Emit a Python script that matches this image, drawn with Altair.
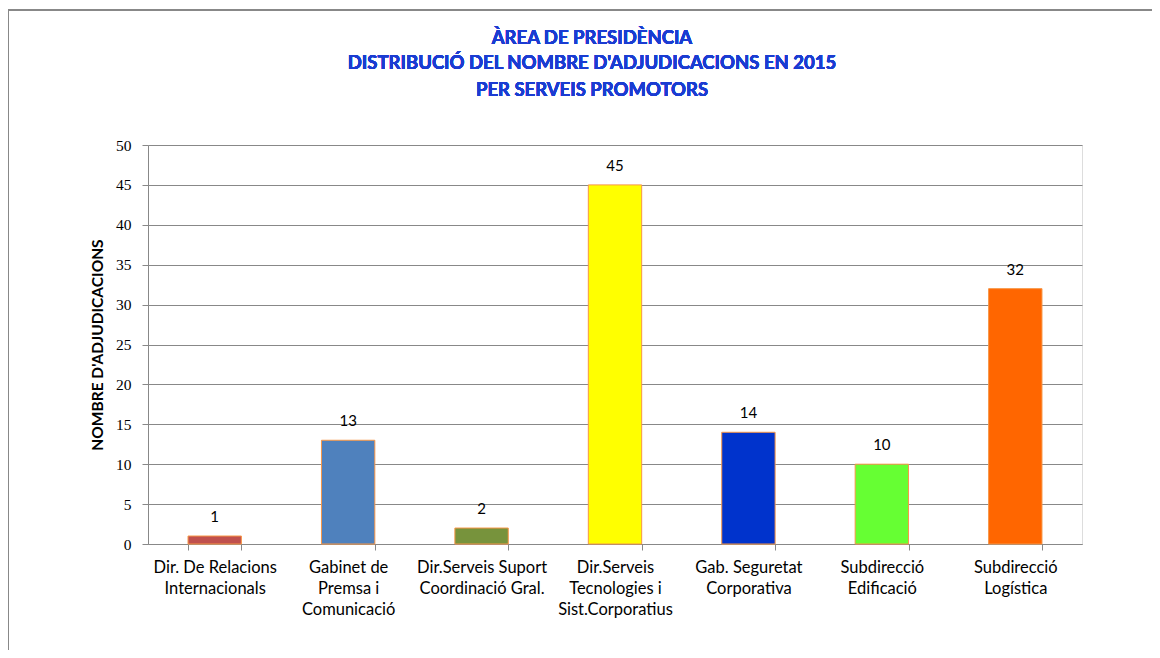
import altair as alt
import pandas as pd

categories = [
    "Dir. De Relacions|Internacionals",
    "Gabinet de|Premsa i|Comunicació",
    "Dir.Serveis Suport|Coordinació Gral.",
    "Dir.Serveis|Tecnologies i|Sist.Corporatius",
    "Gab. Seguretat|Corporativa",
    "Subdirecció|Edificació",
    "Subdirecció|Logística",
]
values = [1, 13, 2, 45, 14, 10, 32]
colors = ["#C0504D", "#4F81BD", "#77933C", "#FFFF00", "#0033CC", "#66FF33", "#FF6600"]
y_ticks = [0, 5, 10, 15, 20, 25, 30, 35, 40, 45, 50]
title_lines = [
    "ÀREA DE PRESIDÈNCIA",
    "DISTRIBUCIÓ DEL NOMBRE D'ADJUDICACIONS EN 2015",
    "PER SERVEIS PROMOTORS",
]

df = pd.DataFrame({"cat": categories, "val": values})

x_enc = alt.X(
    "cat:N",
    sort=categories,
    scale=alt.Scale(paddingInner=0.6, paddingOuter=0.3),
    axis=alt.Axis(
        title=None,
        labelExpr="split(datum.label, '|')",
        labelAngle=0,
        labelFont="Lato",
        labelFontSize=16.5,
        labelColor="#000000",
        labelLineHeight=21,
        labelPadding=9,
        tickBand="extent",
        tickSize=6,
        tickColor="#888888",
        domainColor="#888888",
        labelBaseline="top",
    ),
)

y_enc = alt.Y(
    "val:Q",
    scale=alt.Scale(domain=[0, 50], nice=False),
    axis=alt.Axis(
        title="NOMBRE D'ADJUDICACIONS",
        titleFont="Lato",
        titleFontSize=15.5,
        titleFontWeight="bold",
        titleColor="#000000",
        titleX=-43,
        values=y_ticks,
        labelOverlap=False,
        labelFont="Liberation Serif",
        labelFontSize=15.5,
        labelColor="#000000",
        labelPadding=11,
        tickSize=6,
        tickColor="#888888",
        domainColor="#888888",
        gridColor="#888888",
        gridOpacity=1,
    ),
)

bars = alt.Chart(df).mark_bar(stroke="#F79646", strokeWidth=1).encode(
    x=x_enc,
    y=y_enc,
    color=alt.Color("cat:N", scale=alt.Scale(domain=categories, range=colors), legend=None),
)

labels = alt.Chart(df).mark_text(
    font="Lato", fontSize=15, color="#000000", dy=-14, baseline="alphabetic"
).encode(
    x=x_enc,
    y=y_enc,
    text="val:Q",
)

frame = alt.Chart(df).mark_rect(
    fill="transparent", stroke="#888888", strokeWidth=1.5, clip=False
).encode(
    x=alt.value(-140), x2=alt.value(2000), y=alt.value(-135), y2=alt.value(2000)
)

title_layers = []
title_y = [-107, -82, -55]
for line, ty in zip(title_lines, title_y):
    title_layers.append(
        alt.Chart(df).mark_text(
            font="Lato", fontSize=18.5, fontWeight="bold", color="#1A3CD2",
            align="center", baseline="middle", clip=False,
        ).encode(x=alt.value(444), y=alt.value(ty), text=alt.value(line))
    )

chart = alt.layer(frame, bars, labels, *title_layers).properties(
    width=934,
    height=399,
    autosize=alt.AutoSizeParams(type="none"),
    padding={"left": 140, "top": 137, "right": 70, "bottom": 106},
).configure_view(fill="#F2F2F2", stroke=None).configure(background="#FFFFFF")

chart.save("out.html", embed_options={"renderer": "svg", "actions": False})
